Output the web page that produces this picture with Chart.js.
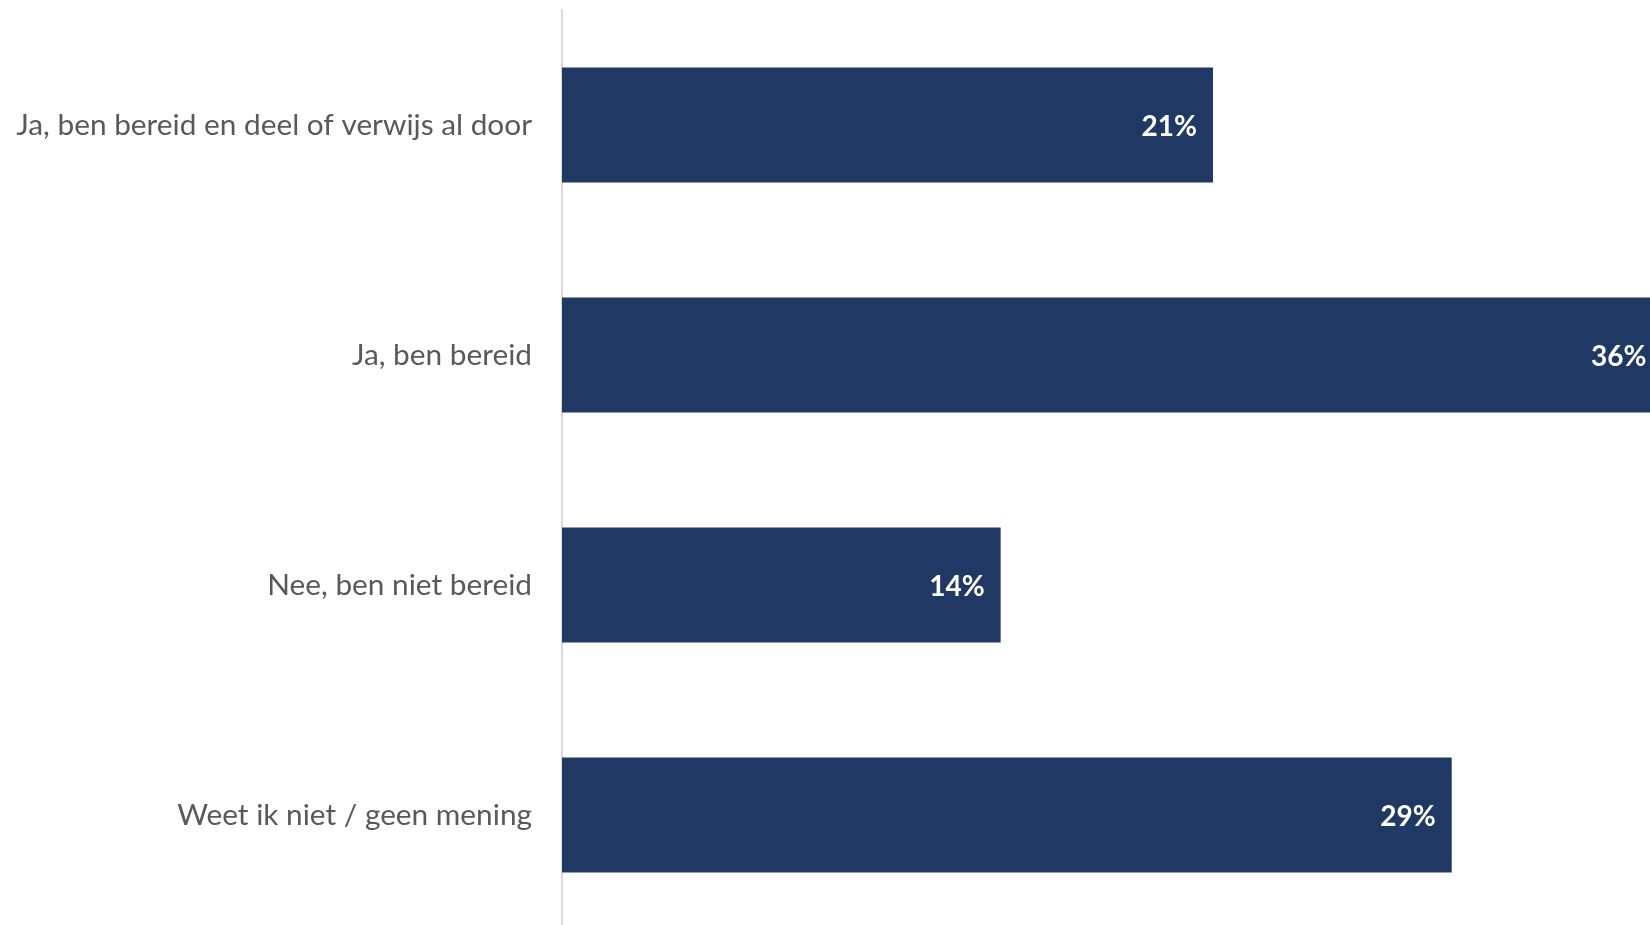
<!DOCTYPE html>
<html>
<head>
<meta charset="utf-8">
<script src="https://cdn.jsdelivr.net/npm/chart.js@4"></script>
<style>
  html, body { margin: 0; padding: 0; background: #fff; overflow: hidden; }
  #wrap { width: 1650px; height: 925px; overflow: hidden; }
</style>
</head>
<body>
<div id="wrap"><canvas id="myChart" width="1810" height="935"></canvas></div>
<script>
// categorieën en waarden (percentages)
const categories = [
    'Ja, ben bereid en deel of verwijs al door',
    'Ja, ben bereid',
    'Nee, ben niet bereid',
    'Weet ik niet / geen mening'
];
const values = [21.0, 35.5, 14.15, 28.7];

const barColor = '#203864';
const labelFont = 'Lato, "Open Sans", sans-serif';

// percentages in de balken
const barLabels = {
    id: 'barLabels',
    afterDatasetsDraw(chart) {
        const c = chart.ctx;
        const meta = chart.getDatasetMeta(0);
        c.save();
        c.fillStyle = '#ffffff';
        c.font = 'bold 28px ' + labelFont;
        c.textAlign = 'right';
        c.textBaseline = 'middle';
        meta.data.forEach((bar, i) => {
            c.fillText(Math.round(values[i]) + '%', bar.x - 16, bar.y + 2);
        });
        c.restore();
    }
};

const ctx = document.getElementById('myChart').getContext('2d');

new Chart(ctx, {
    type: 'bar',
    data: {
        labels: categories,
        datasets: [{
            data: values,
            backgroundColor: barColor,
            borderWidth: 0,
            categoryPercentage: 1,
            barPercentage: 0.5
        }]
    },
    plugins: [barLabels],
    options: {
        indexAxis: 'y',
        responsive: false,
        animation: false,
        layout: { padding: { top: 10, bottom: 5, right: 8, left: 0 } },
        plugins: {
            legend: { display: false },
            tooltip: { enabled: false }
        },
        scales: {
            x: {
                display: false,
                min: 0,
                max: 40
            },
            y: {
                afterFit(scale) {
                    scale.width = 562;
                    scale.paddingTop = 0;
                    scale.paddingBottom = 0;
                },
                grid: { display: false, drawTicks: false },
                border: { display: true, color: '#d9d9d9', width: 2 },
                ticks: {
                    color: '#595959',
                    padding: 30,
                    font: { family: labelFont, size: 29.8 }
                }
            }
        }
    }
});
</script>
</body>
</html>
